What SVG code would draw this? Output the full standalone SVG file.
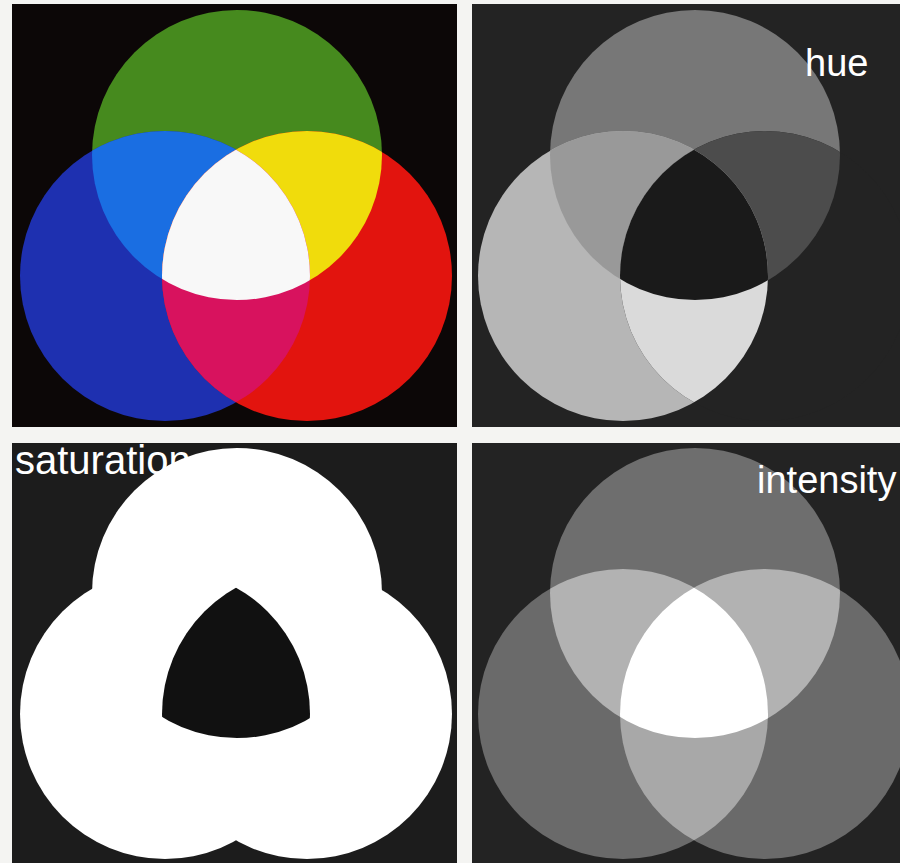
<svg xmlns="http://www.w3.org/2000/svg" width="900" height="863" viewBox="0 0 900 863">
<style>
.lbl{font-family:"Liberation Sans",Arial,sans-serif;fill:#ffffff}
</style>
<defs>
<clipPath id="cG" clipPathUnits="userSpaceOnUse"><circle cx="237" cy="155" r="145"/></clipPath>
<clipPath id="cB" clipPathUnits="userSpaceOnUse"><circle cx="165" cy="276" r="145"/></clipPath>
<clipPath id="cR" clipPathUnits="userSpaceOnUse"><circle cx="307" cy="276" r="145"/></clipPath>
<circle id="G" cx="237" cy="155" r="145"/>
<circle id="B" cx="165" cy="276" r="145"/>
<circle id="R" cx="307" cy="276" r="145"/>
<clipPath id="pTR"><rect x="472" y="4" width="428" height="423"/></clipPath>
<clipPath id="pBR"><rect x="472" y="443" width="428" height="420"/></clipPath>
</defs>
<rect x="0" y="0" width="900" height="863" fill="#f4f4f2"/>

<g id="rgb">
<rect x="12" y="4" width="445" height="423" fill="#0c0707"/>
<use href="#G" fill="#468a1e"/>
<use href="#B" fill="#1e30b0"/>
<use href="#R" fill="#e2140e"/>
<use href="#B" fill="#1a6ee2" clip-path="url(#cG)"/>
<use href="#R" fill="#f0dc0c" clip-path="url(#cG)"/>
<use href="#R" fill="#d8125e" clip-path="url(#cB)"/>
<g clip-path="url(#cG)"><use href="#R" fill="#f8f8f8" clip-path="url(#cB)"/></g>
</g>

<g id="hue" clip-path="url(#pTR)">
<rect x="472" y="4" width="428" height="423" fill="#232323"/>
<g transform="translate(458,0)">
<use href="#G" fill="#777777"/>
<use href="#B" fill="#b6b6b6"/>
<use href="#R" fill="#232323"/>
<use href="#B" fill="#999999" clip-path="url(#cG)"/>
<use href="#R" fill="#4c4c4c" clip-path="url(#cG)"/>
<use href="#R" fill="#dadada" clip-path="url(#cB)"/>
<g clip-path="url(#cG)"><use href="#R" fill="#1a1a1a" clip-path="url(#cB)"/></g>
</g>
<text class="lbl" x="805" y="76" font-size="38">hue</text>
</g>

<g id="saturation">
<rect x="12" y="443" width="445" height="420" fill="#1c1c1c"/>
<text class="lbl" x="15" y="474" font-size="40">saturation</text>
<g transform="translate(0,438)">
<use href="#G" fill="#ffffff"/>
<use href="#B" fill="#ffffff"/>
<use href="#R" fill="#ffffff"/>
<g clip-path="url(#cG)"><use href="#R" fill="#111111" clip-path="url(#cB)"/></g>
</g>
</g>

<g id="intensity" clip-path="url(#pBR)">
<rect x="472" y="443" width="428" height="420" fill="#232323"/>
<g transform="translate(458,438)">
<use href="#G" fill="#6e6e6e"/>
<use href="#B" fill="#6a6a6a"/>
<use href="#R" fill="#6a6a6a"/>
<use href="#B" fill="#b2b2b2" clip-path="url(#cG)"/>
<use href="#R" fill="#b2b2b2" clip-path="url(#cG)"/>
<use href="#R" fill="#a8a8a8" clip-path="url(#cB)"/>
<g clip-path="url(#cG)"><use href="#R" fill="#ffffff" clip-path="url(#cB)"/></g>
</g>
<text class="lbl" x="757" y="493" font-size="38">intensity</text>
</g>
</svg>
